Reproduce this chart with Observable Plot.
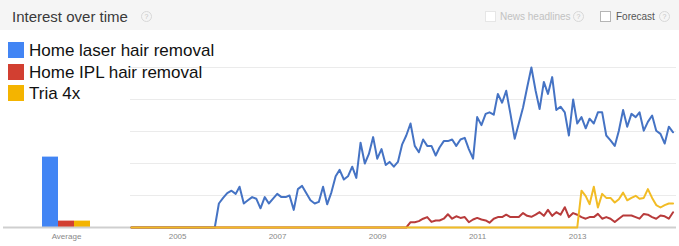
<!DOCTYPE html>
<html><head><meta charset="utf-8">
<script src="https://cdn.jsdelivr.net/npm/d3@7"></script>
<script src="https://cdn.jsdelivr.net/npm/@observablehq/plot@0.6"></script>
<style>
body{margin:0;background:#fff;font-family:"Liberation Sans",Arial,sans-serif}
#wrap{position:relative;width:679px;height:246px;overflow:hidden;background:#fff}
#header{position:absolute;left:0;top:0;width:679px;height:30px;background:#f5f5f5}
.abs{position:absolute;white-space:nowrap}
.q{position:absolute;box-sizing:border-box;width:11px;height:11px;border:1px solid #d8d8d8;border-radius:50%;font-size:7px;line-height:9px;text-align:center;color:#c4c4c4}
.cb{position:absolute;box-sizing:border-box;width:11px;height:11px;background:#fff}
#charts{position:absolute;left:0;top:30px;display:flex;width:679px}
.leg{position:absolute;left:8px;height:17px;font-size:17px;line-height:17px;color:#111;white-space:nowrap}
.leg i{position:absolute;left:0;top:0;width:16px;height:16px}
.leg span{position:absolute;left:21px;top:0}
</style></head>
<body>
<div id="wrap">
  <div id="header">
    <div class="abs" style="left:12px;top:9px;font-size:15px;line-height:15px;color:#3a3a3a">Interest over time</div>
    <div class="q" style="left:141px;top:11px">?</div>
    <div class="cb" style="left:485px;top:11px;border:1px solid #e6e6e6"></div>
    <div class="abs" style="left:500px;top:11.5px;font-size:10px;line-height:10px;color:#c2c2c2">News headlines</div>
    <div class="q" style="left:573px;top:11px">?</div>
    <div class="cb" style="left:600px;top:11px;border:1px solid #b5b5b5"></div>
    <div class="abs" style="left:616px;top:11.5px;font-size:10px;line-height:10px;color:#555">Forecast</div>
    <div class="q" style="left:659px;top:11px">?</div>
  </div>
  <div id="charts"></div>
  <div id="legend"></div>
</div>
<script>
const series = ["Home laser hair removal", "Home IPL hair removal", "Tria 4x"];
const averages = [44, 4, 4];
const barColors = ["#4285f4", "#d23f31", "#f4b400"];
const lineColors = ["#4573c4", "#b83b3b", "#f2bc25"];
const yearTicks = [2005, 2007, 2009, 2011, 2013];
const gridValues = [20, 40, 60, 80, 100];

// monthly values, Jan 2004 .. Nov 2014
const laser = [
  0,0,0,0,0,0,0,0,0,0,0,0,0,0,0,0,0,0,0,0,0,
  15,18.5,21.5,23,21,25.5,15,17,19,18,
  12,19,15,18,21,19,19,20,11,24,
  26,21.5,17,15,16,25.5,14.5,22,32,36,
  30,32,38,31,53,40,46,56.5,43,49,
  39,41,38,41,52,57.5,65,51,47,55,
  51,51,45,50,54,54,55,51,55,56,
  49,43,69,64,71,72,70.5,83.5,78,85.5,
  71,55.5,65,75,87.5,100,85.5,74,91,83.5,
  94,73.5,75.5,72,57.5,80,65,69,62,68,
  65,72,72,57.5,54.5,51,60.5,73.5,63,71,
  69,72,60.5,66,70,60.5,58.5,52.5,63,59.5
];
const ipl = [
  0,0,0,0,0,0,0,0,0,0,0,0,0,0,0,0,0,0,0,0,
  0,0,0,0,0,0,0,0,0,0,0,0,0,0,0,0,0,0,0,0,
  0,0,0,0,0,0,0,0,0,0,0,0,0,0,0,0,0,0,0,0,
  0,0,0,0,0,0,0,
  3.3,3.3,4,5.5,6.5,3.5,4.4,4.4,5.5,8.3,
  5.5,7,6,6.5,3.3,5,6,5,4.4,3,
  5.5,6.5,6.5,8,6.5,6.5,6.5,9,7.3,6.7,
  8,9.6,7.3,11,7.3,9.6,8,12.7,6.5,9,
  8,6.5,5.5,6.5,6.5,8.5,5.5,6.5,5.5,3.4,
  5.5,7.5,7.5,7.5,6.5,5.5,8.5,8,6.5,5.5,
  7.5,7,5.5,9.5
];
const tria = [
  0,0,0,0,0,0,0,0,0,0,0,0,0,0,0,0,0,0,0,0,
  0,0,0,0,0,0,0,0,0,0,0,0,0,0,0,0,0,0,0,0,
  0,0,0,0,0,0,0,0,0,0,0,0,0,0,0,0,0,0,0,0,
  0,0,0,0,0,0,0,0,0,0,0,0,0,0,0,0,0,0,0,0,
  0,0,0,0,0,0,0,0,0,0,0,0,0,0,0,0,0,0,0,0,
  0,0,0,0,0,0,0,0,
  23,19.6,14.6,25.5,12.5,21,18.5,18.5,15.6,17.7,
  21.8,17,18.5,19.8,18,18.5,24,18.5,14,12.5,
  14,15,15
];

const valuesBySeries = [laser, ipl, tria];
const rows = series.flatMap((s, i) => valuesBySeries[i].map((v, m) => ({
  series: s, date: new Date(Date.UTC(2004, m, 15)), value: v
})));
const avgRows = series.map((s, i) => ({series: s, value: averages[i]}));

const svgStyle = {fontFamily: "Liberation Sans, Arial, sans-serif", maxWidth: "none", flex: "none", display: "block", background: "transparent"};

const avgChart = Plot.plot({
  width: 129, height: 216,
  marginTop: 0, marginBottom: 19, marginLeft: 3, marginRight: 0,
  style: svgStyle,
  x: {type: "band", domain: series, range: [41, 91], padding: 0, label: null},
  y: {domain: [0, 100], range: [197, 37], axis: null},
  color: {domain: series, range: barColors},
  marks: [
    Plot.barY(avgRows, {x: "series", y: "value", fill: "series"}),
    Plot.ruleY([0], {stroke: "#cfcfcf", strokeWidth: 2}),
    Plot.axisX({ticks: [series[1]], tickFormat: () => "Average", tickSize: 0, tickPadding: 6, fontSize: 8, fill: "#888", label: null})
  ]
});

const timeChart = Plot.plot({
  width: 550, height: 216,
  marginTop: 0, marginBottom: 19, marginLeft: 0, marginRight: 0,
  style: svgStyle,
  x: {type: "utc", domain: [new Date(Date.UTC(2004, 0, 1)), new Date(Date.UTC(2015, 0, 1))], label: null},
  y: {domain: [0, 100], range: [197, 37], axis: null},
  color: {domain: series, range: lineColors},
  marks: [
    Plot.ruleY(gridValues, {stroke: "#ebebeb", insetLeft: 1, insetRight: 3}),
    Plot.ruleY([0], {stroke: "#cfcfcf", strokeWidth: 2, insetRight: 3}),
    Plot.line(rows, {x: "date", y: "value", stroke: "series", z: "series", strokeWidth: 2}),
    Plot.axisX({
      ticks: yearTicks.map(y => new Date(Date.UTC(y, 0, 1))),
      tickFormat: d3.utcFormat("%Y"), tickSize: 0, tickPadding: 6, fontSize: 8, fill: "#888", dx: -2, label: null
    })
  ]
});

document.getElementById("charts").append(avgChart, timeChart);

const legend = document.getElementById("legend");
series.forEach((s, i) => {
  const row = document.createElement("div");
  row.className = "leg";
  row.style.top = (42 + i * 21.5) + "px";
  const sw = document.createElement("i");
  sw.style.background = barColors[i];
  const tx = document.createElement("span");
  tx.textContent = s;
  row.append(sw, tx);
  legend.append(row);
});
</script>
</body></html>
